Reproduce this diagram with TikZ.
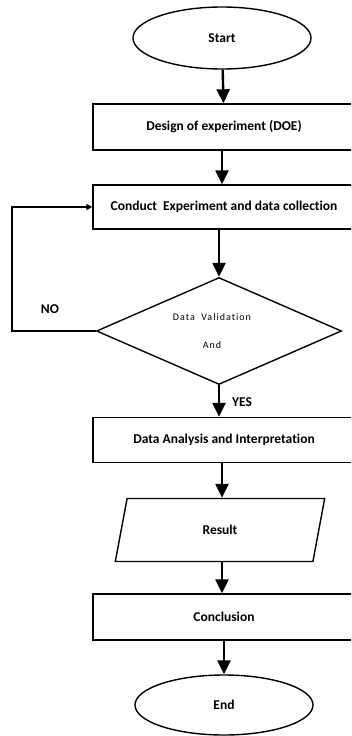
\documentclass[tikz,border=0pt]{standalone}
\usepackage{fontspec}
\setmainfont{Carlito}[Ligatures=NoCommon]
\usetikzlibrary{shapes.geometric,arrows.meta}

\begin{document}
\begin{tikzpicture}[x=1pt, y=-1pt, font=\bfseries\fontsize{13.5}{15}\selectfont, line width=1.4pt]
    \useasboundingbox (0,0) rectangle (351,736);
    \clip (0,0) rectangle (351,736);

    \node (start) [draw, ellipse, minimum width=178pt, minimum height=62pt] at (222,38) {Start};
    \node (doe) [draw, minimum width=262pt, minimum height=46pt] at (224,127) {Design of experiment (DOE)};
    \node (conduct) [draw, minimum width=262pt, minimum height=44pt] at (224,207) {Conduct\hspace{3pt} Experiment and data collection};
    \node (valid) [draw, diamond, minimum width=245pt, minimum height=107pt, inner sep=0pt, align=center,
        font=\fontsize{10}{11}\selectfont\addfontfeatures{LetterSpace=10}] at (219,331)
        {\makebox[0pt]{Data\ \ Validation\hspace*{14pt}}\\[17pt]\makebox[0pt]{And\hspace*{14pt}}};
    \node (analysis) [draw, minimum width=262pt, minimum height=45pt] at (224,440) {Data Analysis and\ Interpretation};
    \node (result) [draw, trapezium, trapezium left angle=77, trapezium right angle=103,
        trapezium stretches=true, minimum width=210pt, minimum height=63pt, inner sep=0pt] at (220,530) {Result};
    \node (concl) [draw, minimum width=262pt, minimum height=46pt] at (224,617) {Conclusion};
    \node (end) [draw, ellipse, minimum width=178pt, minimum height=60pt] at (224,705) {End};

    \node (no) at (50,309) {NO};
    \node (yes) at (242,402) {YES};

    \draw[-{Triangle[width=13pt,length=14pt]}, line width=2.4pt] (start) -- (doe);
    \draw[-{Triangle[width=13pt,length=14pt]}, line width=2.4pt] (doe.south -| start) -- (conduct.north -| start);
    \draw[-{Triangle[width=13pt,length=14pt]}, line width=2.4pt] (conduct.south -| valid) -- (valid);
    \draw[-{Triangle[width=13pt,length=14pt]}, line width=2.4pt] (valid) -- (analysis.north -| valid);
    \draw[-{Triangle[width=13pt,length=14pt]}, line width=2.4pt] (analysis.south -| start) -- (result.north -| start);
    \draw[-{Triangle[width=13pt,length=14pt]}, line width=2.4pt] (result.south -| start) -- (concl.north -| start);
    \draw[-{Triangle[width=13pt,length=14pt]}, line width=2.4pt] (concl.south -| end) -- (end);
    \draw[-{Triangle[width=6pt,length=6pt]}, line width=2pt] (valid.west) -- ++(-84,0) |- (conduct.west);
\end{tikzpicture}
\end{document}
